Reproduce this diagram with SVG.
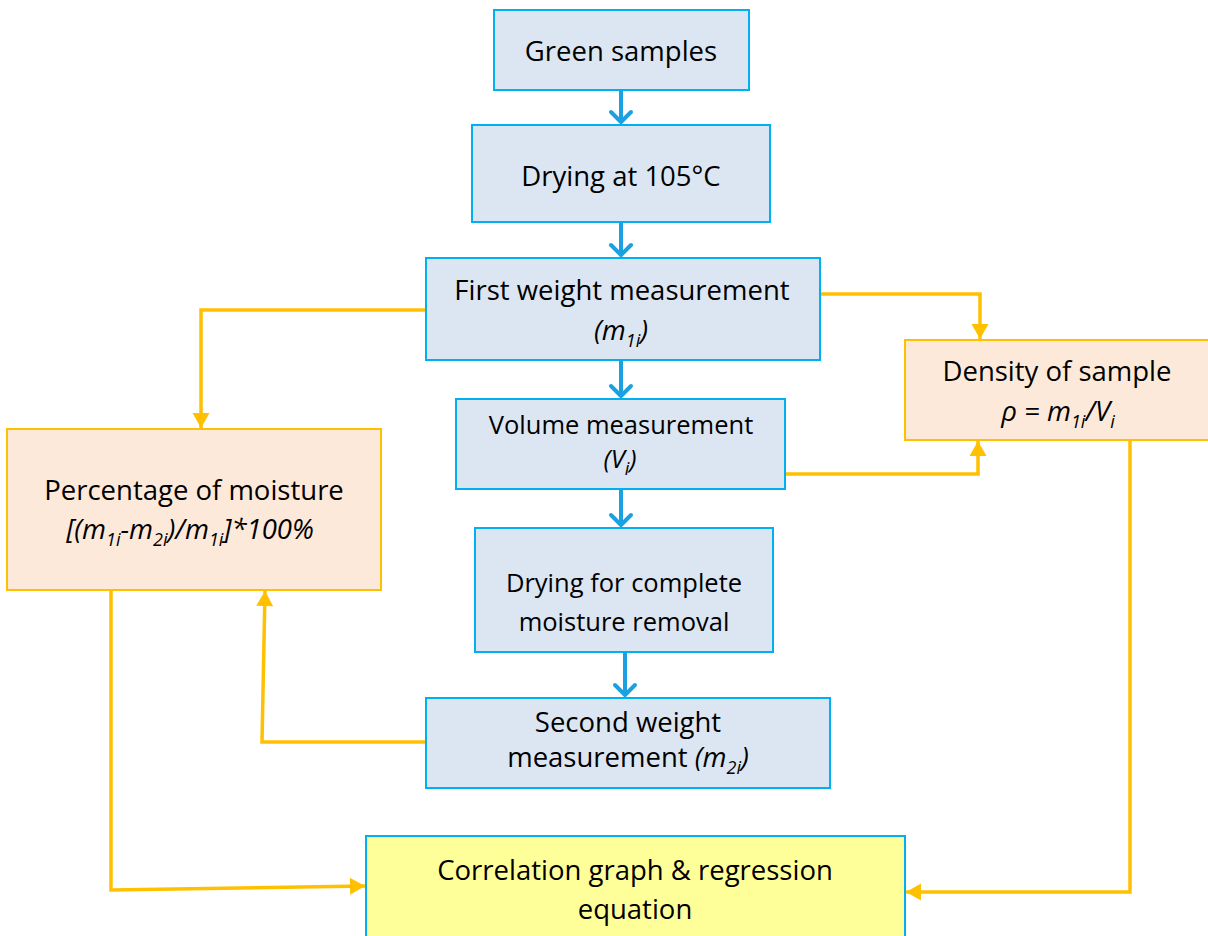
<svg xmlns="http://www.w3.org/2000/svg" width="1208" height="936" viewBox="0 0 1208 936">
<defs>
<style>
.bn{fill:#dce6f2;stroke:#00b0f0;stroke-width:2}
.on{fill:#fde9d9;stroke:#ffc000;stroke-width:2}
.yn{fill:#ffff99;stroke:#00b0f0;stroke-width:2}
text{font-family:"Open Sans","Liberation Sans",sans-serif;font-size:27.5px;fill:#000;text-anchor:middle}
.sm{font-size:25.5px}
.it{font-style:italic}
.sub{font-size:18px}
.bl{fill:none;stroke:#1ba1e2;stroke-width:4}
.ol{fill:none;stroke:#ffc000;stroke-width:3.5}
</style>
<marker id="ab" markerUnits="userSpaceOnUse" markerWidth="30" markerHeight="30" viewBox="-15 -15 30 30" refX="0" refY="0" orient="auto">
<path d="M-10,-10 L0,0 L-10,10" fill="none" stroke="#1ba1e2" stroke-width="4" stroke-linecap="round" stroke-linejoin="round"/>
</marker>
<marker id="ao" markerUnits="userSpaceOnUse" markerWidth="30" markerHeight="30" viewBox="-20 -15 30 30" refX="0" refY="0" orient="auto">
<path d="M-15,-8.5 L0,0 L-15,8.5 Z" fill="#ffc000"/>
</marker>
</defs>
<g id="connectors">
<line class="bl" x1="621" y1="90" x2="621" y2="122" marker-end="url(#ab)"/>
<line class="bl" x1="621" y1="222" x2="621" y2="255" marker-end="url(#ab)"/>
<line class="bl" x1="621" y1="360" x2="621" y2="396" marker-end="url(#ab)"/>
<line class="bl" x1="621" y1="489" x2="621" y2="525" marker-end="url(#ab)"/>
<line class="bl" x1="625" y1="652" x2="625" y2="695" marker-end="url(#ab)"/>
<polyline class="ol" points="426,310 201,310 201,428" marker-end="url(#ao)"/>
<polyline class="ol" points="820,294 980,294 980,339" marker-end="url(#ao)"/>
<polyline class="ol" points="785,474 978,474 978,441" marker-end="url(#ao)"/>
<polyline class="ol" points="426,742 262,742 265,591" marker-end="url(#ao)"/>
<polyline class="ol" points="111,590 111,890 365,886" marker-end="url(#ao)"/>
<polyline class="ol" points="1130,440 1130,892 906,892" marker-end="url(#ao)"/>
</g>
<g id="green-samples">
<rect class="bn" x="494" y="10" width="255" height="80"/>
<text x="621" y="61">Green samples</text>
</g>
<g id="drying-105">
<rect class="bn" x="472" y="125" width="298" height="97"/>
<text x="621" y="186">Drying at 105°C</text>
</g>
<g id="first-weight">
<rect class="bn" x="426" y="258" width="394" height="102"/>
<text x="622" y="300">First weight measurement</text>
<text x="621" y="340" class="it">(m<tspan class="sub" dy="7">1i</tspan><tspan dy="-7">)</tspan></text>
</g>
<g id="volume">
<rect class="bn" x="456" y="399" width="329" height="90"/>
<text x="621" y="434" class="sm">Volume measurement</text>
<text x="620" y="468" class="it sm">(V<tspan class="sub" dy="7">i</tspan><tspan dy="-7">)</tspan></text>
</g>
<g id="drying-complete">
<rect class="bn" x="475" y="528" width="298" height="124"/>
<text x="624" y="592" class="sm">Drying for complete</text>
<text x="624" y="631" class="sm">moisture removal</text>
</g>
<g id="second-weight">
<rect class="bn" x="426" y="698" width="404" height="90"/>
<text x="628" y="732">Second weight</text>
<text x="628" y="767">measurement <tspan class="it">(m</tspan><tspan class="it sub" dy="7">2i</tspan><tspan class="it" dy="-7">)</tspan></text>
</g>
<g id="density">
<rect class="on" x="905" y="340" width="310" height="100"/>
<text x="1057" y="381">Density of sample</text>
<text x="1058" y="421" class="it">ρ = m<tspan class="sub" dy="7">1i</tspan><tspan dy="-7">/V</tspan><tspan class="sub" dy="7">i</tspan></text>
</g>
<g id="percentage">
<rect class="on" x="7" y="429" width="374" height="161"/>
<text x="194" y="500">Percentage of moisture</text>
<text x="190" y="539" class="it">[(m<tspan class="sub" dy="7">1i</tspan><tspan dy="-7">-m</tspan><tspan class="sub" dy="7">2i</tspan><tspan dy="-7">)/m</tspan><tspan class="sub" dy="7">1i</tspan><tspan dy="-7">]*100%</tspan></text>
</g>
<g id="correlation">
<rect class="yn" x="366" y="836" width="539" height="110"/>
<text x="635" y="880">Correlation graph &amp; regression</text>
<text x="635" y="919">equation</text>
</g>
</svg>
